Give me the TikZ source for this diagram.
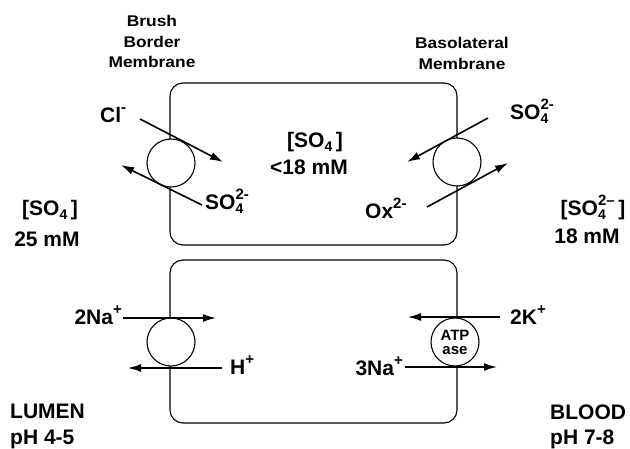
\documentclass[tikz,border=0pt]{standalone}
\usepackage{fontspec}
\setmainfont{Liberation Sans}
\usetikzlibrary{arrows.meta}

% raised and lowered ion marks
\newcommand{\ionup}[1]{\raisebox{0.48em}{\fontsize{15}{15}\selectfont#1}}
\newcommand{\iondn}[1]{\raisebox{-0.15em}{\fontsize{14}{14}\selectfont#1}}
\newcommand{\ionud}[2]{\ooalign{\ionup{#2}\cr\iondn{#1}\cr}}

\tikzset{
  lbl/.style={font=\fontsize{21}{27}\selectfont\bfseries, inner sep=0pt},
  small/.style={font=\fontsize{15.5}{20}\selectfont\bfseries\addfontfeature{FakeStretch=1.12}, inner sep=0pt},
  cell/.style={draw, line width=1.1pt, rounded corners=13pt},
  carrier/.style={circle, draw, line width=1.1pt, fill=white, minimum size=48pt, inner sep=0pt},
  flux/.style={line width=1.6pt, -{Latex[length=13pt,width=8pt]}}
}

\begin{document}
\begin{tikzpicture}[x=1pt, y=-1pt]
  \useasboundingbox (0,0) rectangle (630,449);

  % Cells
  \draw[cell] (170,83) rectangle (457,245);
  \draw[cell] (170,260) rectangle (457,423);

  % Membrane titles
  \node[small, anchor=base] (brush) at (152,27) {Brush};
  \node[small, anchor=base] (border) at (152,48) {Border};
  \node[small, anchor=base] (bbm) at (152,68) {Membrane};
  \node[small, anchor=base] (baso) at (462,49) {Basolateral};
  \node[small, anchor=base] (blm) at (462,70) {Membrane};

  % Carriers
  \node[carrier] (clx) at (171,163) {};
  \node[carrier] (oxx) at (457,162) {};
  \node[carrier] (nhx) at (171,342) {};
  \node[carrier, font=\fontsize{15}{14}\selectfont\bfseries, align=center] (atp) at (455,342) {ATP\\ase};

  % Arrow ends
  \coordinate (cla) at (140,119);  \coordinate (clb) at (223,162);
  \coordinate (sla) at (202,205);  \coordinate (slb) at (121,165);
  \coordinate (sba) at (488,118);  \coordinate (sbb) at (407,162);
  \coordinate (oxa) at (427,207);  \coordinate (oxb) at (508,163);
  \coordinate (naa) at (123,318);  \coordinate (nab) at (216,318);
  \coordinate (hha) at (222,368);  \coordinate (hhb) at (128,368);
  \coordinate (kka) at (500,317);  \coordinate (kkb) at (408,317);
  \coordinate (nba) at (405,367);  \coordinate (nbb) at (497,367);

  % Fluxes
  \draw[flux] (cla) -- (clb);
  \draw[flux] (sla) -- (slb);
  \draw[flux] (sba) -- (sbb);
  \draw[flux] (oxa) -- (oxb);
  \draw[flux] (naa) -- (nab);
  \draw[flux] (hha) -- (hhb);
  \draw[flux] (kka) -- (kkb);
  \draw[flux] (nba) -- (nbb);

  % Ion labels
  \node[lbl, anchor=base west] (cl) at (100,123) {Cl\ionup{-}};
  \node[lbl, anchor=base west] (sol) at (205,210) {SO\ionud{4}{2-}};
  \node[lbl, anchor=base west] (sor) at (510,120) {SO\ionud{4}{2-}};
  \node[lbl, anchor=base west] (ox) at (365,219) {Ox\ionup{2-}};
  \node[lbl, anchor=base east] (na2) at (122,325) {2Na\ionup{+}};
  \node[lbl, anchor=base west] (hh) at (230,375) {H\ionup{+}};
  \node[lbl, anchor=base west] (kk) at (510,325) {2K\ionup{+}};
  \node[lbl, anchor=base east] (na3) at (403,376) {3Na\ionup{+}};

  % Concentrations
  \node[lbl, anchor=base] (cin) at (315,148) {[SO\iondn{4}\,]};
  \node[lbl, anchor=base] (cinv) at (309,175) {<18 mM};
  \node[lbl, anchor=base] (clum) at (50,216) {[SO\iondn{4}\,]};
  \node[lbl, anchor=base] (clumv) at (47,247) {25 mM};
  \node[lbl, anchor=base] (cbl) at (593,216) {[SO\ionud{4}{2--}\,]};
  \node[lbl, anchor=base] (cblv) at (587,244) {18 mM};

  % Compartments
  \node[lbl, anchor=base west] (lumen) at (10,419) {LUMEN};
  \node[lbl, anchor=base west] (phl) at (10,445) {pH 4-5};
  \node[lbl, anchor=base west] (blood) at (550,420) {BLOOD};
  \node[lbl, anchor=base west] (phb) at (550,445) {pH 7-8};
\end{tikzpicture}
\end{document}
